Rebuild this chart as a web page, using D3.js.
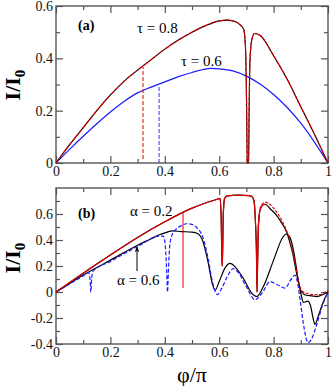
<!DOCTYPE html>
<html>
<head>
<meta charset="utf-8">
<script src="https://cdn.jsdelivr.net/npm/d3@7"></script>
<style>
  body { margin: 0; background: #fff; }
</style>
</head>
<body>
<svg id="chart" width="332" height="386" font-family="Liberation Serif"></svg>
<script>
// axis ticks
const xTicks = [0, 0.2, 0.4, 0.6, 0.8, 1];
const xTickLabels = ['0', '0.2', '0.4', '0.6', '0.8', '1'];
const xMinor = [0.1, 0.3, 0.5, 0.7, 0.9];
const aYTicks = [0, 0.2, 0.4, 0.6];
const aYTickLabels = ['0', '0.2', '0.4', '0.6'];
const aYMinor = [0.1, 0.3, 0.5];
const bYTicks = [-0.4, -0.2, 0, 0.2, 0.4, 0.6];
const bYTickLabels = ['-0.4', '-0.2', '0', '0.2', '0.4', '0.6'];
const bYMinor = [-0.3, -0.1, 0.1, 0.3, 0.5, 0.7];

// panel (a): tau = 0.8 (with resonance dip) and tau = 0.6
const tau08X = [0, 0.05, 0.1, 0.15, 0.2, 0.25, 0.3, 0.35, 0.4, 0.45, 0.5, 0.55, 0.6, 0.63, 0.66, 0.68, 0.69, 0.695, 0.698, 0.701, 0.703, 0.708, 0.71, 0.712, 0.716, 0.722, 0.73, 0.75, 0.8, 0.85, 0.9, 0.95, 1];
const tau08Y = [0, 0.07, 0.135, 0.2, 0.26, 0.312, 0.355, 0.395, 0.435, 0.47, 0.5, 0.525, 0.543, 0.546, 0.54, 0.525, 0.51, 0.47, 0.4, 0.2, 0.0, 0.0, 0.2, 0.35, 0.44, 0.48, 0.495, 0.488, 0.41, 0.32, 0.215, 0.11, 0];
const tau06X = [0, 0.05, 0.1, 0.15, 0.2, 0.25, 0.3, 0.35, 0.4, 0.45, 0.5, 0.57, 0.6, 0.65, 0.7, 0.75, 0.8, 0.85, 0.9, 0.95, 1];
const tau06Y = [0, 0.052, 0.102, 0.15, 0.195, 0.235, 0.268, 0.29, 0.31, 0.33, 0.346, 0.362, 0.36, 0.352, 0.332, 0.302, 0.262, 0.212, 0.152, 0.08, 0];
const aMarkX = [0.32, 0.379];
const aMarkBottom = [0.015, 0];
const aMarkTop = [0.367, 0.294];

// panel (b): alpha = 0.2 (solid + dashed) and alpha = 0.6 (solid black, dashed blue)
const a02X = [0, 0.1, 0.2, 0.3, 0.4, 0.5, 0.55, 0.595, 0.603, 0.607, 0.609, 0.611, 0.613, 0.615, 0.62, 0.63, 0.67, 0.71, 0.72, 0.728, 0.733, 0.737, 0.739, 0.741, 0.744, 0.75, 0.76, 0.768, 0.79, 0.811, 0.83, 0.848, 0.86, 0.872, 0.882, 0.891, 0.903, 0.92, 0.94, 0.958, 0.975, 1];
const a02Y = [0, 0.145, 0.285, 0.42, 0.54, 0.645, 0.685, 0.715, 0.72, 0.6, 0.35, 0.2, 0.35, 0.6, 0.72, 0.74, 0.745, 0.742, 0.735, 0.7, 0.55, 0.3, 0.0, 0.2, 0.5, 0.63, 0.67, 0.675, 0.635, 0.59, 0.53, 0.46, 0.38, 0.28, 0.17, 0.08, 0.0, -0.025, -0.03, -0.035, -0.025, 0];
const a02DashX = [0.744, 0.75, 0.76, 0.772, 0.8, 0.83, 0.855, 0.875, 0.89, 0.9, 0.92, 0.95, 0.97, 0.99, 1];
const a02DashY = [0.5, 0.64, 0.68, 0.69, 0.645, 0.55, 0.43, 0.27, 0.1, 0.02, -0.01, -0.02, -0.02, 0.0, 0.015];
const a06X = [0, 0.05, 0.1, 0.13, 0.2, 0.3, 0.35, 0.38, 0.4, 0.43, 0.46, 0.5, 0.52, 0.54, 0.56, 0.575, 0.585, 0.6, 0.62, 0.64, 0.66, 0.69, 0.72, 0.738, 0.762, 0.8, 0.835, 0.846, 0.86, 0.875, 0.89, 0.9, 0.91, 0.925, 0.935, 0.945, 0.952, 0.965, 0.98, 1];
const a06Y = [0, 0.065, 0.13, 0.165, 0.245, 0.36, 0.41, 0.44, 0.455, 0.47, 0.465, 0.46, 0.45, 0.39, 0.22, 0.06, 0.015, 0.08, 0.18, 0.22, 0.19, 0.1, -0.01, -0.035, 0.04, 0.245, 0.425, 0.446, 0.42, 0.3, 0.1, -0.01, -0.08, -0.07, -0.1, -0.2, -0.25, -0.18, -0.09, 0];
const a06DashX = [0, 0.05, 0.1, 0.12, 0.125, 0.128, 0.131, 0.136, 0.2, 0.3, 0.38, 0.395, 0.402, 0.407, 0.41, 0.413, 0.418, 0.425, 0.44, 0.46, 0.48, 0.5, 0.52, 0.54, 0.56, 0.575, 0.593, 0.61, 0.63, 0.652, 0.67, 0.7, 0.732, 0.76, 0.787, 0.81, 0.842, 0.865, 0.879, 0.89, 0.9, 0.91, 0.927, 0.94, 0.96, 0.98, 1];
const a06DashY = [0, 0.062, 0.125, 0.15, 0.1, 0.0, 0.1, 0.16, 0.235, 0.35, 0.43, 0.43, 0.35, 0.15, 0.0, 0.15, 0.35, 0.43, 0.48, 0.51, 0.525, 0.52, 0.49, 0.42, 0.25, 0.08, -0.02, 0.03, 0.12, 0.18, 0.15, 0.04, -0.06, 0.0, 0.08, 0.06, 0.03, 0.1, 0.13, 0.05, -0.1, -0.25, -0.39, -0.36, -0.24, -0.1, 0];
const bMarkX = [0.467];
const bMarkBottom = [0.03];
const bMarkTop = [0.615];

const FONT = 'Liberation Serif';
const svg = d3.select('#chart');
const x = d3.scaleLinear().domain([0, 1]).range([56, 328]);
const yA = d3.scaleLinear().domain([0, 0.6]).range([163, 6]);
const yB = d3.scaleLinear().domain([-0.4, 0.8]).range([344, 188]);

const zip = (xs, ys) => xs.map((v, i) => [v, ys[i]]);

function drawFrame(y, yTicks, yLabels, yMinor) {
    const g = svg.append('g');
    const [y0, y1] = y.range();
    const fmt = (vals, labels) => d => labels[vals.indexOf(d)];

    // major / minor ticks on all four sides, pointing inward
    const axes = [
        [d3.axisBottom(x).tickValues(xTicks).tickFormat(fmt(xTicks, xTickLabels)), `translate(0,${y0})`, 7],
        [d3.axisBottom(x).tickValues(xMinor).tickFormat(''), `translate(0,${y0})`, 4],
        [d3.axisTop(x).tickValues(xTicks).tickFormat(''), `translate(0,${y1})`, 7],
        [d3.axisTop(x).tickValues(xMinor).tickFormat(''), `translate(0,${y1})`, 4],
        [d3.axisLeft(y).tickValues(yTicks).tickFormat(fmt(yTicks, yLabels)), 'translate(56,0)', 7],
        [d3.axisLeft(y).tickValues(yMinor).tickFormat(''), 'translate(56,0)', 4],
        [d3.axisRight(y).tickValues(yTicks).tickFormat(''), 'translate(328,0)', 7],
        [d3.axisRight(y).tickValues(yMinor).tickFormat(''), 'translate(328,0)', 4]
    ];
    axes.forEach(([ax, tr, len]) => {
        const a = g.append('g').attr('transform', tr)
            .call(ax.tickSizeInner(-len).tickSizeOuter(0).tickPadding(3));
        a.attr('font-family', FONT).attr('font-size', 14);
        a.select('.domain').remove();
        a.selectAll('line').attr('stroke', '#555').attr('stroke-width', 1.2);
        a.selectAll('text').attr('fill', '#111');
    });

    g.append('rect')
        .attr('x', 56).attr('y', y1)
        .attr('width', 272).attr('height', y0 - y1)
        .attr('fill', 'none').attr('stroke', '#555').attr('stroke-width', 1.4);
}

function curve(y, pts, color, width, dash) {
    const line = d3.line().x(d => x(d[0])).y(d => y(d[1])).curve(d3.curveMonotoneX);
    svg.append('path')
        .attr('d', line(pts))
        .attr('fill', 'none')
        .attr('stroke', color)
        .attr('stroke-width', width)
        .attr('stroke-dasharray', dash || null);
}

function markers(y, xs, bottoms, tops, color, dash) {
    xs.forEach((v, i) => {
        svg.append('line')
            .attr('x1', x(v)).attr('x2', x(v))
            .attr('y1', y(bottoms[i])).attr('y2', y(tops[i]))
            .attr('stroke', color).attr('stroke-width', 1)
            .attr('stroke-dasharray', dash || null);
    });
}

// ---- panel (a)
drawFrame(yA, aYTicks, aYTickLabels, aYMinor);
curve(yA, zip(tau06X, tau06Y), '#1a1aff', 1.2);
curve(yA, zip(tau08X, tau08Y), '#000', 1.1);
curve(yA, zip(tau08X, tau08Y), '#e00000', 1.2, '4,1.5');
markers(yA, [aMarkX[0]], [aMarkBottom[0]], [aMarkTop[0]], '#e00000', '4,2');
markers(yA, [aMarkX[1]], [aMarkBottom[1]], [aMarkTop[1]], '#3333ff', '4,2');

// ---- panel (b)
drawFrame(yB, bYTicks, bYTickLabels, bYMinor);
curve(yB, zip(a06X, a06Y), '#000', 1.2);
curve(yB, zip(a06DashX, a06DashY), '#1a1aff', 1.2, '4,2');
curve(yB, zip(a02X, a02Y), '#000', 1.2);
curve(yB, zip(a02X, a02Y).filter(d => d[0] <= 0.77), '#e00000', 1.2);
curve(yB, zip(a02DashX, a02DashY), '#e00000', 1.2, '3,1.5');
markers(yB, bMarkX, bMarkBottom, bMarkTop, '#e00000');

// ---- annotations
const txt = (xp, yp, s, size, weight) => svg.append('text')
    .attr('x', xp).attr('y', yp).attr('font-size', size)
    .attr('font-family', FONT)
    .attr('font-weight', weight || 'normal').attr('fill', '#000').text(s);

txt(78, 30, '(a)', 14, 'bold');
txt(137, 33, 'τ = 0.8', 15);
txt(181, 66, 'τ = 0.6', 15);
txt(78, 218, '(b)', 14, 'bold');
txt(130, 216, 'α = 0.2', 15);
txt(117, 285, 'α = 0.6', 15);

svg.append('defs').append('marker')
    .attr('id', 'arr').attr('viewBox', '0 0 10 10')
    .attr('refX', 9).attr('refY', 5)
    .attr('markerWidth', 6).attr('markerHeight', 6)
    .attr('orient', 'auto')
    .append('path').attr('d', 'M0,1 L10,5 L0,9 L3,5 Z').attr('fill', '#000');
svg.append('line')
    .attr('x1', 137).attr('y1', 271).attr('x2', 137).attr('y2', 247)
    .attr('stroke', '#000').attr('stroke-width', 1)
    .attr('marker-end', 'url(#arr)');

// y labels (rotated) and x label
function yLabel(cy) {
    const t = svg.append('text')
        .attr('transform', `translate(20,${cy}) rotate(-90)`)
        .attr('text-anchor', 'middle')
        .attr('font-family', FONT)
        .attr('font-size', 22).attr('font-weight', 'bold');
    t.append('tspan').text('I/I');
    t.append('tspan').attr('font-size', 15).attr('dy', 5).text('0');
}
yLabel(85);
yLabel(258);

svg.append('text')
    .attr('x', 192).attr('y', 382)
    .attr('text-anchor', 'middle')
    .attr('font-family', FONT)
    .attr('font-size', 22)
    .text('φ/π');
</script>
</body>
</html>
